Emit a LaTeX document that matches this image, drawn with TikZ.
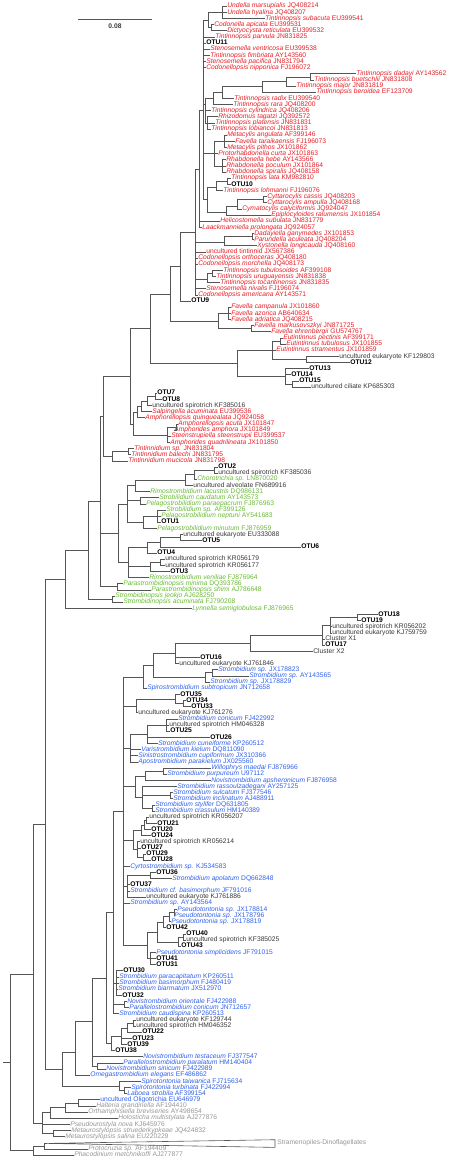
\documentclass[tikz,border=0pt]{standalone}
\usepackage{fontspec}
\setmainfont{Liberation Sans}
\definecolor{tinred}{RGB}{230,30,38}
\definecolor{chorgreen}{RGB}{104,186,52}
\definecolor{oliblue}{RGB}{48,96,236}
\definecolor{envgrey}{RGB}{55,55,55}
\definecolor{hypgrey}{RGB}{150,150,150}
\definecolor{brgrey}{RGB}{85,85,85}
\newcommand\leaffont{\fontsize{6.7}{7}\selectfont}

\begin{document}
\begin{tikzpicture}[x=1pt, y=-6.144pt,
  br/.style={draw=brgrey, line width=0.6pt},
  lf/.style={anchor=west, inner sep=0.6pt, text height=4.9pt, text depth=1.4pt, font=\leaffont},
  tin/.style={lf, text=tinred},
  chor/.style={lf, text=chorgreen},
  oli/.style={lf, text=oliblue},
  otu/.style={lf, font=\leaffont\bfseries},
  env/.style={lf, text=envgrey},
  hyp/.style={lf, text=hypgrey}]
  \useasboundingbox (0pt,0pt) rectangle (450pt,-1162pt);

  \foreach \k/\tx/\st/\lb in {
    1/226.5/tin/{\textit{Undella marsupialis} JQ408214},
    2/226.5/tin/{\textit{Undella hyalina} JQ408207},
    3/264.5/tin/{\textit{Tintinnopsis subacuta} EU399541},
    4/213.5/tin/{\textit{Codonella apicata} EU399531},
    5/226.5/tin/{\textit{Dictyocysta reticulata} EU399532},
    6/214.5/tin/{\textit{Tintinnopsis parvula} JN831825},
    7/205.5/otu/OTU11,
    8/209.5/tin/{\textit{Stenosemella ventricosa} EU399538},
    9/209.5/tin/{\textit{Tintinnopsis fimbriata} AY143560},
    10/205.5/tin/{\textit{Stenosemella pacifica} JN831794},
    11/205.5/tin/{\textit{Codonellopsis nipponica} FJ196072},
    12/355.5/tin/{\textit{Tintinnopsis dadayi} AY143562},
    13/313.5/tin/{\textit{Tintinnopsis buetschlii} JN831808},
    14/295.5/tin/{\textit{Tintinnopsis major} JN831819},
    15/315.5/tin/{\textit{Tintinnopsis beroidea} EF123709},
    16/233.5/tin/{\textit{Tintinnopsis radix} EU399540},
    17/232.5/tin/{\textit{Tintinnopsis rara} JQ408200},
    18/210.5/tin/{\textit{Tintinnopsis cylindrica} JQ408206},
    19/217.5/tin/{\textit{Rhizodomus tagatzi} JQ392572},
    20/214.5/tin/{\textit{Tintinnopsis platensis} JN831831},
    21/210.5/tin/{\textit{Tintinnopsis lobiancoi} JN831813},
    22/226.5/tin/{\textit{Metacylis angulata} AF399146},
    23/234.5/tin/{\textit{Favella taraikaensis} FJ196073},
    24/226.5/tin/{\textit{Metacylis pithos} JX101862},
    25/217.5/tin/{\textit{Protorhabdonella curta} JX101863},
    26/225.5/tin/{\textit{Rhabdonella hebe} AY143566},
    27/225.5/tin/{\textit{Rhabdonella poculum} JX101864},
    28/225.5/tin/{\textit{Rhabdonella spiralis} JQ408158},
    29/230.5/tin/{\textit{Tintinnopsis lata} KM982810},
    30/230.5/otu/OTU10,
    31/222.5/tin/{\textit{Tintinnopsis lohmanni} FJ196076},
    32/266.5/tin/{\textit{Cyttarocylis cassis} JQ408203},
    33/266.5/tin/{\textit{Cyttarocylis ampulla} JQ408168},
    34/241.5/tin/{\textit{Cymatocylis calyciformis} JQ924047},
    35/270.5/tin/{\textit{Epiplocyloides ralumensis} JX101854},
    36/219.5/tin/{\textit{Helicostomella subulata} JN831779},
    37/201.5/tin/{\textit{Laackmanniella prolongata} JQ924057},
    38/253.5/tin/{\textit{Dadayiella ganymedes} JX101853},
    39/253.5/tin/{\textit{Parundella aculeata} JQ408204},
    40/256.5/tin/{\textit{Xystonella longicauda} JQ408160},
    41/205.5/tin/{uncultured tintinnid JX567386},
    42/197.5/tin/{\textit{Codonellopsis orthoceras} JQ408180},
    43/197.5/tin/{\textit{Codonellopsis morchella} JQ408173},
    44/222.5/tin/{\textit{Tintinnopsis tubulosoides} AF399108},
    45/215.5/tin/{\textit{Tintinnopsis uruguayensis} JN831838},
    46/219.5/tin/{\textit{Tintinnopsis tocantinensis} JN831835},
    47/205.5/tin/{\textit{Stenosemella nivalis} FJ196074},
    48/197.5/tin/{\textit{Codonellopsis americana} AY143571},
    49/190.5/otu/OTU9,
    50/230.5/tin/{\textit{Favella campanula} JX101860},
    51/230.5/tin/{\textit{Favella azorica} AB640634},
    52/230.5/tin/{\textit{Favella adriatica} JQ408215},
    53/253.5/tin/{\textit{Favella markusovszkyi} JN871725},
    54/270.5/tin/{\textit{Favella ehrenbergii} GU574767},
    55/282.5/tin/{\textit{Eutintinnus pectinis} AF399171},
    56/285.5/tin/{\textit{Eutintinnus tubulosus} JX101855},
    57/275.5/tin/{\textit{Eutintinnus stramentus} JX101859},
    58/338.5/env/{uncultured eukaryote KF129803},
    59/349.5/otu/OTU12,
    60/308.5/otu/OTU13,
    61/290.5/otu/OTU14,
    62/298.5/otu/OTU15,
    63/310.5/env/{uncultured ciliate KP685303},
    64/156.5/otu/OTU7,
    65/161.5/otu/OTU8,
    66/151.5/env/{uncultured spirotrich KF385016},
    67/151.5/tin/{\textit{Salpingella acuminata} EU399536},
    68/144.5/tin/{\textit{Amphorellopsis quinquealata} JQ924058},
    69/177.5/tin/{\textit{Amphorellopsis acuta} JX101847},
    70/173.5/tin/{\textit{Amphorides amphora} JX101849},
    71/170.5/tin/{\textit{Steenstrupiella steenstrupii} EU399537},
    72/169.5/tin/{\textit{Amphorides quadrilineata} JX101850},
    73/133.5/tin/{\textit{Tintinnidium sp.} JN831804},
    74/130.5/tin/{\textit{Tintinnidium balechi} JN831795},
    75/127.5/tin/{\textit{Tintinnidium mucicola} JN831798},
    76/217.5/otu/OTU2,
    77/217.5/env/{uncultured spirotrich KF385036},
    78/196.5/chor/{\textit{Chorotrichia sp.} LN870020},
    79/192.5/env/{uncultured alveolate FN689916},
    80/149.5/chor/{\textit{Rimostrombidium lacustris} DQ986131},
    81/158.5/chor/{\textit{Strobilidium caudatum} AY143573},
    82/145.5/chor/{\textit{Pelagostrobilidium paraepacrum} FJ876963},
    83/165.5/chor/{\textit{Strobilidium sp.} AF399126},
    84/160.5/chor/{\textit{Pelagostrobilidium neptuni} AY541683},
    85/160.5/otu/OTU1,
    86/156.5/chor/{\textit{Pelagostrobilidium minutum} FJ876959},
    87/182.5/env/{uncultured eukaryote EU333088},
    88/201.5/otu/OTU5,
    89/300.5/otu/OTU6,
    90/156.5/otu/OTU4,
    91/164.5/env/{uncultured spirotrich KR056179},
    92/164.5/env/{uncultured spirotrich KR056177},
    93/169.5/otu/OTU3,
    94/148.5/chor/{\textit{Rimostrombidium veniliae} FJ876964},
    95/122.5/chor/{\textit{Parastrombidinopsis minima} DQ393786},
    96/150.5/chor/{\textit{Parastrombidinopsis shimi} AJ786648},
    97/114.5/chor/{\textit{Strombidinopsis jeokjo} AJ628250},
    98/122.5/chor/{\textit{Strombidinopsis acuminata} FJ790208},
    99/191.5/chor/{\textit{Lynnella semiglobulosa} FJ876965},
    100/377.5/otu/OTU18,
    101/360.5/otu/OTU19,
    102/331.5/env/{uncultured spirotrich KR056202},
    103/331.5/env/{uncultured eukaryote KJ759759},
    104/324.5/env/{Cluster X1},
    105/324.5/otu/OTU17,
    106/312.5/env/{Cluster X2},
    107/199.5/otu/OTU16,
    108/178.5/env/{uncultured eukaryote KJ761846},
    109/217.5/oli/{\textit{Strombidium sp.} JX178823},
    110/248.5/oli/{\textit{Strombidium sp.} AY143565},
    111/209.5/oli/{\textit{Strombidium sp.} JX178829},
    112/146.5/oli/{\textit{Spirostrombidium subtropicum} JN712658},
    113/179.5/otu/OTU35,
    114/185.5/otu/OTU34,
    115/190.5/otu/OTU33,
    116/137.5/env/{uncultured eukaryote KJ761276},
    117/177.5/oli/{\textit{Strombidium conicum} FJ422992},
    118/168.5/env/{uncultured spirotrich HM046328},
    119/169.5/otu/OTU25,
    120/209.5/otu/OTU26,
    121/157.5/oli/{\textit{Strombidium cuneiforme} KP260512},
    122/140.5/oli/{\textit{Varistrombidium kielum} DQ811090},
    123/137.5/oli/{\textit{Sinistrostrombidium cupiformum} JX310366},
    124/137.5/oli/{\textit{Apostrombidium parakielum} JX025560},
    125/210.5/oli/{\textit{Willophrys maedai} FJ876966},
    126/166.5/oli/{\textit{Strombidium purpureum} U97112},
    127/210.5/oli/{\textit{Novistrombidium apsheronicum} FJ876958},
    128/176.5/oli/{\textit{Strombidium rassoulzadegani} AY257125},
    129/172.5/oli/{\textit{Strombidium sulcatum} FJ377546},
    130/172.5/oli/{\textit{Strombidium inclinatum} AJ488911},
    131/154.5/oli/{\textit{Strombidium stylifer} DQ631805},
    132/154.5/oli/{\textit{Strombidium crassulum} HM140389},
    133/148.5/env/{uncultured spirotrich KR056207},
    134/156.5/otu/OTU21,
    135/150.5/otu/OTU20,
    136/150.5/otu/OTU24,
    137/139.5/env/{uncultured spirotrich KR056214},
    138/140.5/otu/OTU27,
    139/145.5/otu/OTU29,
    140/150.5/otu/OTU28,
    141/129.5/oli/{\textit{Cyrtostrombidium sp.} KJ534583},
    142/155.5/otu/OTU36,
    143/171.5/oli/{\textit{Strombidium apolatum} DQ662848},
    144/129.5/otu/OTU37,
    145/129.5/oli/{\textit{Strombidium cf. basimorphum} JF791016},
    146/145.5/env/{uncultured eukaryote KJ761886},
    147/129.5/oli/{\textit{Strombidium sp.} AY143564},
    148/176.5/oli/{\textit{Pseudotontonia sp.} JX178814},
    149/173.5/oli/{\textit{Pseudotontonia sp.} JX178796},
    150/170.5/oli/{\textit{Pseudotontonia sp.} JX178819},
    151/165.5/otu/OTU42,
    152/185.5/otu/OTU40,
    153/185.5/env/{uncultured spirotrich KF385025},
    154/180.5/otu/OTU43,
    155/155.5/oli/{\textit{Pseudotontonia simplicidens} JF791015},
    156/155.5/otu/OTU41,
    157/155.5/otu/OTU31,
    158/122.5/otu/OTU30,
    159/118.5/oli/{\textit{Strombidium paracapitatum} KP260511},
    160/118.5/oli/{\textit{Strombidium basimorphum} FJ480419},
    161/117.5/oli/{\textit{Strombidium biarmatum} JX512970},
    162/121.5/otu/OTU32,
    163/126.5/oli/{\textit{Novistrombidium orientale} FJ422988},
    164/128.5/oli/{\textit{Parallelostrombidium conicum} JN712657},
    165/118.5/oli/{\textit{Strombidium caudispina} KP260513},
    166/135.5/env/{uncultured eukaryote KF129744},
    167/135.5/env/{uncultured spirotrich HM046352},
    168/141.5/otu/OTU22,
    169/131.5/otu/OTU23,
    170/126.5/otu/OTU39,
    171/114.5/otu/OTU38,
    172/142.5/oli/{\textit{Novistrombidium testaceum} FJ377547},
    173/122.5/oli/{\textit{Parallelostrombidium paralatum} HM140404},
    174/105.5/oli/{\textit{Novistrombidium sinicum} FJ422989},
    175/89.5/oli/{\textit{Omegastrombidium elegans} EF486862},
    176/140.5/oli/{\textit{Spirotontonia taiwanica} FJ715634},
    177/130.5/oli/{\textit{Spirotontonia turbinata} FJ422994},
    178/126.5/oli/{\textit{Laboea strobila} AF399154},
    179/99.5/oli/{uncultured Oligotrichia EU646979},
    180/95.5/hyp/{\textit{Halteria grandinella} AF194410},
    181/87.5/hyp/{\textit{Orthamphisiella breviseries} AY498654},
    182/117.5/hyp/{\textit{Holosticha multistylata} AJ277876},
    183/69.5/hyp/{\textit{Pseudourostyla nova} KJ645976},
    184/70.5/hyp/{\textit{Metaurostylopsis struederkypkeae} JQ424832},
    185/64.5/hyp/{\textit{Metaurostylopsis salina} EU220229},
    186/276.5/hyp/{Stramenopiles-Dinoflagellates},
    187/87.5/hyp/{\textit{Protocruzia sp.} AF194409},
    188/73.5/hyp/{\textit{Phacodinium metchnikoffi} AJ277877}}
    \node[\st] (L\k) at (\tx,\k) {\lb};

  \foreach \n/\x/\y in {
    a1/222/2, a3/211/4.5, a2/208/3.25,
    b1/310/12.5, b2/286/13.2, b3/262/14.1, b4/222/15, b5/213/16, b7/207/20, b6/205/17,
    c1/224/23, c2/222/27, c3/214/25, c4/227/29.5, c5/216/30.5, c6/263/32.5, c7/237/33.5,
    c8/226/34.5, c9/207/32.5,
    p2/203/18, h1/199/27.5, d1/252/38.5, d2/224/39.5, t1/212/44.5, t2/207/45.5,
    p1/195/37.75, p0/180/43.4,
    f1/228/51, f2/251/53.5, f0/218/52.3, n170/170/47.9,
    e1/280/55.5, e2/306/58.5, e0/272/57, o2/292/62.5, o0/285/61.25, ne/237/59.1, ncore/150/53.5,
    s7/155/64.5, s8/147/65.3, s9/141/66.2, s10/137/67.1, aa1/176/69.5, sa2/167/70.8,
    nsal/133/69, ntin/130/61.3, ti1/128/73.5, ti/112/74.25, nt/103/67.8,
    a0/214/76.5, sa/194/77.2, sb/185/78.1, sb1/135/79, st/140/81.5, pn1/157/84, pn/143/85,
    sb2/127/82, q3/180/87.5, q2/160/88.2, q1/147/89.1, q4/160/91.5, q5/150/92.2, q0/128/91.5,
    sball/118/86.8, pa/117/95.5, c2n/100/81.6, sn/112/97.5, c1n/88/89.5, c0/65/94.3,
    xb/357/100.5, xc/330/101.7, xa/322/103.4, x0/250/104.7, y0/175/106.3,
    z2/212/109.5, z1/205/110.3, z0/153/108.3, zz/143/110.2,
    w2/183/114.5, w1/175/113.8, w/136/114.9, v1/166/118, v/147/119.5, u/130/121.8,
    m1/163/125.5, m2/145/126.3, m3/170/129.5, m4/152/131.5, m5/142/129.8, m6/135/128,
    r1/146/133.5, r2/144/134.3, r3/141/135.1, r4/143/139.5, r5/137/138.3, r6/133/136.7,
    ap1/150/142.5, ap2/127/144.3,
    p1n/174/148.5, p2n/169/149.2, p3n/163/150.1, p4n/183/152.5, p5n/178/153.3,
    p6n/157/151.7, p7n/150/156, ps/147/153.9,
    strtop/123/132, k1/116/160, k2/124/163.5, n115/113/148.5,
    g1/133/166.5, g2/127/167.3, g3/121/168.6, g4/111/169.8, n108/106/159.2,
    te1/97/173.5, om2/92/166.3, om1/75/171.2, spi1/124/177.5, spi/119/176.8, om/62/174,
    sp/45/134.1,
    hy4/78/179.5, hy3/65/180.3, hy1/50/181.1, meta/53/184.5, hy/42/182.8, na/33/158.5,
    tri/47/186.1, nb1/44/186.6, nb/33/187.3, root/10/172.9, rstub/3/172.9}
    \coordinate (\n) at (\x,\y);

  \draw[br] (a1) |- (L1) (a1) |- (L2) (a1) |- (L3) (a3) |- (L4) (a3) |- (L5)
            (a2) |- (a1) (a2) |- (a3)
            (b1) |- (L12) (b1) |- (L13) (b2) |- (b1) (b2) |- (L14) (b3) |- (b2) (b3) |- (L15)
            (b4) |- (b3) (b4) |- (L16) (b5) |- (b4) (b5) |- (L17)
            (b7) |- (L19) (b7) |- (L20) (b7) |- (L21) (b6) |- (b5) (b6) |- (L18) (b6) |- (b7)
            (c1) |- (L22) (c1) |- (L23) (c1) |- (L24) (c2) |- (L26) (c2) |- (L27) (c2) |- (L28)
            (c3) |- (c1) (c3) |- (L25) (c3) |- (c2)
            (c4) |- (L29) (c4) |- (L30) (c5) |- (c4) (c5) |- (L31)
            (c6) |- (L32) (c6) |- (L33) (c7) |- (c6) (c7) |- (L34) (c8) |- (c7) (c8) |- (L35)
            (c9) |- (c5) (c9) |- (c8)
            (p2) |- (a2) (p2) |- (L6) (p2) |- (L7) (p2) |- (L8) (p2) |- (L9) (p2) |- (L10)
            (p2) |- (L11) (p2) |- (b6) (p2) |- (c3) (p2) |- (c9)
            (h1) |- (p2) (h1) |- (L36) (h1) |- (L37)
            (d1) |- (L38) (d1) |- (L39) (d2) |- (d1) (d2) |- (L40)
            (t1) |- (L44) (t1) |- (L45) (t2) |- (t1) (t2) |- (L46)
            (p1) |- (h1) (p1) |- (d2) (p1) |- (L41) (p1) |- (L42) (p1) |- (L43) (p1) |- (t2)
            (p1) |- (L47) (p1) |- (L48)
            (p0) |- (p1) (p0) |- (L49)
            (f1) |- (L50) (f1) |- (L51) (f1) |- (L52) (f2) |- (L53) (f2) |- (L54)
            (f0) |- (f1) (f0) |- (f2) (n170) |- (p0) (n170) |- (f0)
            (e1) |- (L55) (e1) |- (L56) (e2) |- (L58) (e2) |- (L59)
            (e0) |- (e1) (e0) |- (L57) (e0) |- (e2)
            (o2) |- (L62) (o2) |- (L63) (o0) |- (L60) (o0) |- (L61) (o0) |- (o2)
            (ne) |- (e0) (ne) |- (o0) (ncore) |- (n170) (ncore) |- (ne)
            (s7) |- (L64) (s7) |- (L65) (s8) |- (s7) (s8) |- (L66) (s9) |- (s8) (s9) |- (L67)
            (s10) |- (s9) (s10) |- (L68)
            (aa1) |- (L69) (aa1) |- (L70) (sa2) |- (aa1) (sa2) |- (L71) (sa2) |- (L72)
            (nsal) |- (s10) (nsal) |- (sa2) (ntin) |- (ncore) (ntin) |- (nsal)
            (ti1) |- (L73) (ti1) |- (L74) (ti) |- (ti1) (ti) |- (L75)
            (nt) |- (ntin) (nt) |- (ti);

  \draw[br] (a0) |- (L76) (a0) |- (L77) (sa) |- (a0) (sa) |- (L78) (sb) |- (sa) (sb) |- (L79)
            (sb1) |- (sb) (sb1) |- (L80) (st) |- (L81) (st) |- (L82)
            (pn1) |- (L83) (pn1) |- (L84) (pn1) |- (L85) (pn) |- (pn1) (pn) |- (L86)
            (sb2) |- (sb1) (sb2) |- (st) (sb2) |- (pn)
            (q3) |- (L87) (q3) |- (L88) (q2) |- (q3) (q2) |- (L89) (q1) |- (q2) (q1) |- (L90)
            (q4) |- (L91) (q4) |- (L92) (q5) |- (q4) (q5) |- (L93)
            (q0) |- (q1) (q0) |- (q5) (q0) |- (L94)
            (sball) |- (sb2) (sball) |- (q0)
            (pa) |- (L95) (pa) |- (L96)
            (c2n) |- (nt) (c2n) |- (sball) (c2n) |- (pa)
            (sn) |- (L97) (sn) |- (L98) (c1n) |- (c2n) (c1n) |- (sn)
            (c0) |- (c1n) (c0) |- (L99);

  \draw[br] (xb) |- (L100) (xb) |- (L101) (xc) |- (xb) (xc) |- (L102) (xc) |- (L103)
            (xa) |- (xc) (xa) |- (L104) (xa) |- (L105) (x0) |- (xa) (x0) |- (L106)
            (y0) |- (x0) (y0) |- (L107) (y0) |- (L108)
            (z2) |- (L109) (z2) |- (L110) (z1) |- (z2) (z1) |- (L111)
            (z0) |- (y0) (z0) |- (z1) (zz) |- (z0) (zz) |- (L112)
            (w2) |- (L114) (w2) |- (L115) (w1) |- (L113) (w1) |- (w2) (w) |- (w1) (w) |- (L116)
            (v1) |- (L117) (v1) |- (L118) (v1) |- (L119)
            (v) |- (v1) (v) |- (L120) (v) |- (L121)
            (u) |- (v) (u) |- (L122) (u) |- (L123) (u) |- (L124)
            (m1) |- (L125) (m1) |- (L126) (m2) |- (m1) (m2) |- (L127)
            (m3) |- (L129) (m3) |- (L130) (m4) |- (L131) (m4) |- (L132)
            (m5) |- (L128) (m5) |- (m3) (m5) |- (m4) (m6) |- (m2) (m6) |- (m5)
            (r1) |- (L133) (r1) |- (L134) (r2) |- (r1) (r2) |- (L135) (r3) |- (r2) (r3) |- (L136)
            (r4) |- (L139) (r4) |- (L140) (r5) |- (L137) (r5) |- (L138) (r5) |- (r4)
            (r6) |- (r3) (r6) |- (r5)
            (ap1) |- (L142) (ap1) |- (L143)
            (ap2) |- (ap1) (ap2) |- (L144) (ap2) |- (L145) (ap2) |- (L146)
            (p1n) |- (L148) (p1n) |- (L149) (p2n) |- (p1n) (p2n) |- (L150)
            (p3n) |- (p2n) (p3n) |- (L151)
            (p4n) |- (L152) (p4n) |- (L153) (p5n) |- (p4n) (p5n) |- (L154)
            (p6n) |- (p3n) (p6n) |- (p5n)
            (p7n) |- (L155) (p7n) |- (L156) (p7n) |- (L157) (ps) |- (p6n) (ps) |- (p7n)
            (strtop) |- (zz) (strtop) |- (w) (strtop) |- (u) (strtop) |- (m6) (strtop) |- (r6)
            (strtop) |- (L141) (strtop) |- (ap2) (strtop) |- (L147) (strtop) |- (ps)
            (k1) |- (L158) (k1) |- (L159) (k1) |- (L160) (k1) |- (L161) (k1) |- (L162)
            (k2) |- (L163) (k2) |- (L164)
            (n115) |- (strtop) (n115) |- (k1) (n115) |- (k2) (n115) |- (L165)
            (g1) |- (L166) (g1) |- (L167) (g2) |- (g1) (g2) |- (L168)
            (g3) |- (g2) (g3) |- (L169) (g3) |- (L170) (g4) |- (g3) (g4) |- (L171)
            (n108) |- (n115) (n108) |- (g4)
            (te1) |- (L173) (te1) |- (L174)
            (om2) |- (n108) (om2) |- (L172) (om2) |- (te1)
            (om1) |- (om2) (om1) |- (L175)
            (spi1) |- (L177) (spi1) |- (L178) (spi) |- (L176) (spi) |- (spi1)
            (om) |- (om1) (om) |- (spi)
            (sp) |- (c0) (sp) |- (om);

  \draw[br] (hy4) |- (L179) (hy4) |- (L180) (hy3) |- (hy4) (hy3) |- (L181)
            (hy1) |- (hy3) (hy1) |- (L182)
            (meta) |- (L184) (meta) |- (L185)
            (hy) |- (hy1) (hy) |- (L183) (hy) |- (meta)
            (na) |- (sp) (na) |- (hy)
            (nb1) |- (tri) (nb1) |- (L187) (nb) |- (nb1) (nb) |- (L188)
            (root) |- (na) (root) |- (nb) (rstub) -- (root);
  \draw[br] (tri) -- (275,185.5) -- (275,186.75) -- cycle;

  \coordinate (sbl) at (78,3.1);
  \coordinate (sbr) at (152,3.1);
  \draw[br] (sbl) -- (sbr) node[midway, below=1.2pt, text=envgrey, font=\leaffont\bfseries] {0.08};
\end{tikzpicture}
\end{document}
